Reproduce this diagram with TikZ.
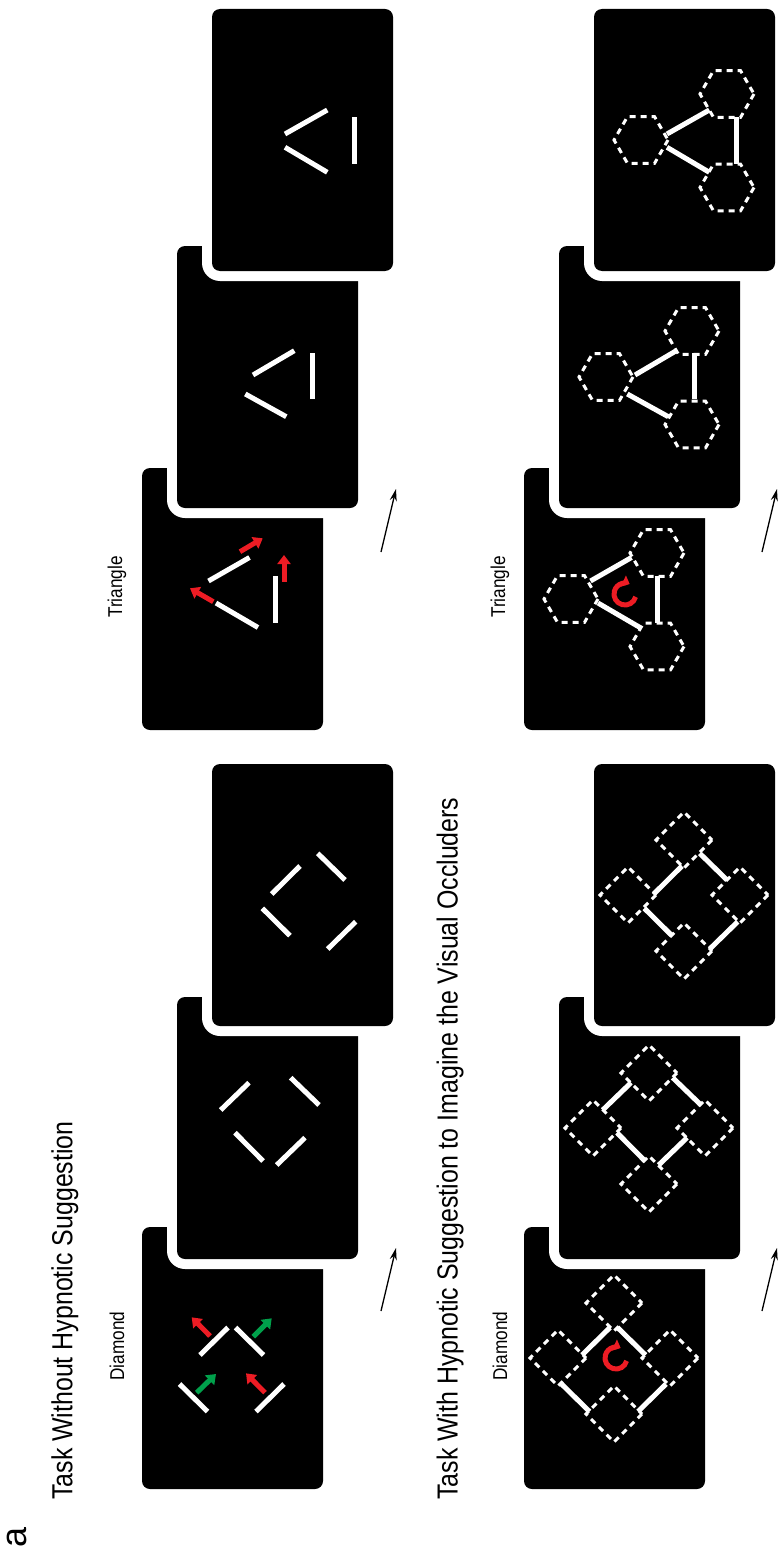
\documentclass[tikz,border=0pt]{standalone}
\usepackage{fontspec}
\setmainfont{Liberation Sans}
\newfontfamily\condfont{Liberation Sans}[FakeStretch=0.86]
\usetikzlibrary{arrows.meta}
\definecolor{moveR}{RGB}{237,28,36}
\definecolor{moveG}{RGB}{0,160,75}
% card with white halo, drawn at the scope origin
\newcommand{\cardbg}{%
  \fill[white,rounded corners=18pt] (-10,-10) rectangle (191,272);
  \fill[black,rounded corners=8pt] (0,0) rectangle (181,262);}
% the line pieces of each frame
\newcommand{\diamAbars}{%
  \draw[bar] (58,128) -- (86,100.5);  \draw[bar] (93.5,100.5) -- (121.5,128);
  \draw[bar] (37.5,157) -- (65.5,184.5); \draw[bar] (142,157) -- (114,184.5);}
\newcommand{\diamBbars}{%
  \draw[bar] (43.7,113) -- (72,85.7);  \draw[bar] (113.7,80.7) -- (142,108);
  \draw[bar] (58,135.7) -- (86,164);   \draw[bar] (128,140.7) -- (99.7,168);}
\newcommand{\diamCbars}{%
  \draw[bar] (59.7,130) -- (88,102);   \draw[bar] (105.7,89.3) -- (133,116);
  \draw[bar] (50.3,144.3) -- (78,171.7); \draw[bar] (143.7,157.7) -- (115.7,185);}
\newcommand{\triAbars}{%
  \draw[bar] (66.5,113) -- (107.5,89.5); \draw[bar] (74,135) -- (116,159.5);
  \draw[bar] (133,108) -- (133,154.7);}
\newcommand{\triBbars}{%
  \draw[bar] (76,129) -- (117.3,104.7); \draw[bar] (68.3,148) -- (109.3,170.7);
  \draw[bar] (135,107.3) -- (135,153.3);}
\newcommand{\triCbars}{%
  \draw[bar] (73,125) -- (115.3,101);  \draw[bar] (73,138.3) -- (115.3,163.3);
  \draw[bar] (142,108.3) -- (142,155);}
% imagined occluders
\newcommand{\occdiam}[2]{\draw[occl] (#1,#2) +(0:28) -- +(90:28) -- +(180:28) -- +(270:28) -- cycle;}
\newcommand{\occhex}[2]{\draw[occl] (#1,#2) +(0:27) -- +(60:27) -- +(120:27) -- +(180:27) -- +(240:27) -- +(300:27) -- cycle;}
\newcommand{\diamoccl}{\occdiam{90}{76}\occdiam{34}{131}\occdiam{146}{131}\occdiam{90}{187}}
\newcommand{\trioccl}{\occhex{47}{131}\occhex{133}{85}\occhex{133}{178.5}}
% clockwise turn arrow (angles on the canvas)
\newcommand{\spin}[2]{\draw[spinarr] (#1,#2) ++(-15:11pt) arc[start angle=-15,end angle=-295,radius=11pt];}

\begin{document}
\begin{tikzpicture}[x=1pt,y=-1pt,
  bar/.style={white,line width=5pt},
  occl/.style={white,line width=3pt,dash pattern=on 6pt off 5pt},
  mvarr/.style={line width=5pt,-{Triangle[width=13pt,length=9pt]}},
  spinarr/.style={moveR,line width=5pt,-{Triangle[width=12pt,length=7pt]}},
  tarr/.style={line width=1.3pt,-{Stealth[length=12pt,width=7pt]}},
  lbl/.style={rotate=90,inner sep=0pt,font=\condfont\fontsize{20}{24}\selectfont},
  ttl/.style={rotate=90,inner sep=0pt,anchor=west,font=\condfont\fontsize{29}{34}\selectfont}]
\useasboundingbox (0,0) rectangle (779,1557);

\node[rotate=90,inner sep=0pt,font=\fontsize{36}{40}\selectfont] (panel) at (17,1537) {a};
\node[ttl] (title-plain) at (65,1500) {Task Without Hypnotic Suggestion};
\node[ttl] (title-hypno) at (450,1500) {Task With Hypnotic Suggestion to Imagine the Visual Occluders};

% ROW 1: no suggestion
\node[lbl] (diam-plain) at (117,1346) {Diamond};
\node[lbl] (tri-plain) at (117,587) {Triangle};
\begin{scope}[shift={(142,1227)}]
  \cardbg \diamAbars
  \draw[mvarr,moveR] (68,109) -- (49.7,90.3);
  \draw[mvarr,moveG] (111.3,109.7) -- (129.7,91.3);
  \draw[mvarr,moveG] (54.7,165.7) -- (74,147);
  \draw[mvarr,moveR] (123,165.7) -- (104,146.3);
\end{scope}
\begin{scope}[shift={(177,997)}] \cardbg \diamBbars \end{scope}
\begin{scope}[shift={(212,764)}] \cardbg \diamCbars \end{scope}
\coordinate (d1-from) at (381,1311); \coordinate (d1-to) at (396,1248);
\draw[tarr] (d1-from) -- (d1-to);

\begin{scope}[shift={(142,468)}]
  \cardbg \triAbars
  \draw[mvarr,moveR] (98,83.7) -- (120.7,70.3);
  \draw[mvarr,moveR] (71.3,133.7) -- (48,120.3);
  \draw[mvarr,moveR] (142,113.7) -- (142,87);
\end{scope}
\begin{scope}[shift={(177,246)}] \cardbg \triBbars \end{scope}
\begin{scope}[shift={(212,9)}] \cardbg \triCbars \end{scope}
\coordinate (t1-from) at (381,552); \coordinate (t1-to) at (396,489);
\draw[tarr] (t1-from) -- (t1-to);

% ROW 2: imagined occluders
\node[lbl] (diam-hypno) at (500,1346) {Diamond};
\node[lbl] (tri-hypno) at (500,587) {Triangle};
\begin{scope}[shift={(524,1227)}] \cardbg \diamoccl \diamAbars \spin{92}{131} \end{scope}
\begin{scope}[shift={(559,997)}] \cardbg \diamoccl \diamBbars \end{scope}
\begin{scope}[shift={(594,764)}] \cardbg \diamoccl \diamCbars \end{scope}
\coordinate (d2-from) at (762,1311); \coordinate (d2-to) at (777,1248);
\draw[tarr] (d2-from) -- (d2-to);

\begin{scope}[shift={(524,468)}] \cardbg \trioccl \triAbars \spin{101}{126} \end{scope}
\begin{scope}[shift={(559,246)}] \cardbg \trioccl \triBbars \end{scope}
\begin{scope}[shift={(594,9)}] \cardbg \trioccl \triCbars \end{scope}
\coordinate (t2-from) at (762,552); \coordinate (t2-to) at (777,489);
\draw[tarr] (t2-from) -- (t2-to);
\end{tikzpicture}
\end{document}
